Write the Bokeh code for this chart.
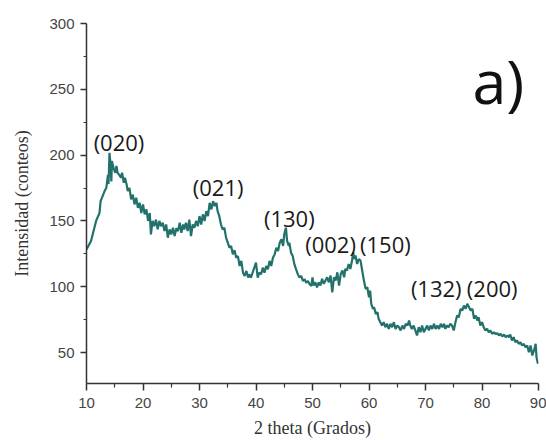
from bokeh.plotting import figure
from bokeh.models import Range1d, FixedTicker, ColumnDataSource
from bokeh.core.properties import value
from bokeh.embed import file_html
from bokeh.resources import INLINE

# 2 theta (degrees) and intensity (counts)
two_theta = [10.0, 10.8, 11.7, 12.3, 12.5, 13.2, 13.5, 13.8, 13.9, 14.07, 14.25, 14.4, 14.5, 14.8,
             15.1, 15.3, 15.5, 15.8, 16.1, 16.3, 16.6, 16.8, 17.1, 17.3, 17.6, 17.9, 18.2, 18.5,
             18.8, 19.1, 19.4, 19.7, 20.0, 20.3, 20.6, 20.9, 21.2, 21.4, 21.7, 22.0, 22.3, 22.6,
             22.9, 23.2, 23.5, 23.8, 24.1, 24.4, 24.7, 25.0, 25.3, 25.6, 25.9, 26.2, 26.5, 26.8,
             27.1, 27.3, 27.6, 27.9, 28.2, 28.5, 28.8, 29.1, 29.4, 29.7, 30.0, 30.3, 30.6, 30.9,
             31.2, 31.5, 31.8, 32.1, 32.4, 32.7, 33.0, 33.2, 33.5, 33.8, 34.1, 34.4, 34.7, 35.0,
             35.3, 35.6, 35.9, 36.2, 36.5, 36.8, 37.1, 37.4, 37.7, 38.0, 38.3, 38.6, 38.8, 39.1,
             39.4, 39.7, 40.0, 40.3, 40.6, 40.9, 41.2, 41.5, 41.8, 42.1, 42.4, 42.7, 43.0, 43.3,
             43.6, 43.9, 44.2, 44.5, 44.8, 45.0, 45.3, 45.5, 45.8, 45.9, 46.2, 46.5, 46.8, 47.1,
             47.4, 47.7, 48.0, 48.3, 48.6, 48.9, 49.2, 49.5, 49.8, 50.0, 50.2, 50.5, 50.8, 51.1,
             51.4, 51.7, 52.0, 52.3, 52.6, 52.9, 53.2, 53.5, 53.8, 54.1, 54.4, 54.7, 55.0, 55.3,
             55.6, 55.8, 56.1, 56.4, 56.7, 57.0, 57.2, 57.4, 57.6, 57.9, 58.2, 58.5, 58.7, 58.9,
             59.1, 59.4, 59.7, 60.0, 60.2, 60.4, 60.7, 60.9, 61.2, 61.5, 61.7, 62.0, 62.3, 62.6,
             62.9, 63.2, 63.5, 63.8, 64.1, 64.4, 64.7, 65.0, 65.3, 65.6, 65.9, 66.2, 66.5, 66.8,
             67.1, 67.3, 67.6, 67.9, 68.2, 68.5, 68.8, 69.1, 69.4, 69.7, 70.0, 70.3, 70.6, 70.9,
             71.2, 71.5, 71.8, 72.1, 72.4, 72.7, 73.0, 73.3, 73.5, 73.8, 74.1, 74.4, 74.7, 75.0,
             75.3, 75.6, 75.9, 76.2, 76.5, 76.8, 77.1, 77.4, 77.7, 78.0, 78.3, 78.6, 78.9, 79.2,
             79.4, 79.7, 80.0, 80.3, 80.6, 80.9, 81.2, 81.5, 81.8, 82.1, 82.4, 82.7, 83.0, 83.3,
             83.6, 83.9, 84.2, 84.5, 84.8, 85.0, 85.3, 85.6, 85.9, 86.2, 86.5, 86.8, 87.1, 87.4,
             87.7, 88.0, 88.3, 88.6, 88.9, 89.2, 89.5, 89.65, 89.9]
intensity = [128.4, 134.8, 150.0, 156.0, 165.0, 172.7, 175.0, 185.0, 178.0, 201.8, 193.0, 180.0, 195.5, 190.0,
             186.6, 191.7, 186.6, 185.0, 182.8, 186.6, 179.0, 182.8, 177.7, 172.7, 175.0, 166.4, 170.0, 162.6,
             167.6, 160.0, 163.8, 156.0, 162.6, 155.0, 158.8, 150.0, 156.0, 139.8, 150.0, 146.0, 151.0, 143.6,
             150.0, 146.0, 148.6, 142.3, 147.3, 137.3, 143.6, 139.8, 144.9, 138.5, 144.4, 142.3, 148.6, 141.0,
             147.3, 143.6, 148.6, 142.3, 151.0, 138.5, 147.3, 144.9, 150.0, 146.0, 153.7, 147.3, 155.0, 150.0,
             157.5, 153.7, 163.8, 158.8, 165.0, 161.3, 163.8, 157.5, 153.7, 147.3, 143.6, 144.9, 137.3, 133.5,
             129.7, 131.0, 124.6, 127.7, 122.0, 123.3, 115.8, 119.6, 110.7, 108.2, 112.0, 107.0, 109.5, 107.0,
             110.7, 114.5, 118.3, 107.0, 110.7, 109.5, 114.5, 110.7, 115.8, 113.2, 119.6, 115.8, 122.0, 124.6,
             129.7, 127.1, 133.5, 136.0, 131.0, 139.8, 144.9, 134.8, 131.0, 133.5, 125.9, 123.3, 117.0, 113.2,
             109.5, 107.0, 108.2, 104.4, 105.7, 103.1, 104.4, 101.9, 100.6, 107.2, 100.9, 103.4, 99.6, 103.4,
             100.9, 106.0, 102.2, 104.7, 107.2, 103.4, 108.5, 95.8, 107.2, 104.7, 111.0, 100.9, 109.7, 112.3,
             107.2, 113.5, 112.3, 117.3, 113.5, 119.9, 126.2, 121.1, 123.7, 117.3, 121.1, 119.9, 114.8, 109.7,
             104.7, 98.4, 99.6, 92.0, 97.1, 87.0, 83.2, 84.5, 79.4, 80.7, 75.6, 73.1, 70.5, 73.1,
             69.3, 71.8, 68.0, 71.8, 69.3, 73.1, 68.0, 70.5, 69.3, 66.8, 70.5, 68.0, 71.8, 70.5,
             74.3, 70.5, 68.0, 70.5, 66.8, 63.0, 69.3, 65.5, 70.5, 65.5, 68.0, 70.5, 66.8, 70.5,
             68.0, 71.8, 68.0, 70.5, 68.0, 71.8, 69.3, 71.8, 68.0, 70.5, 69.3, 71.8, 70.5, 66.8,
             73.1, 78.1, 76.9, 83.2, 81.9, 85.7, 83.2, 87.0, 84.5, 81.9, 83.2, 75.6, 78.1, 74.3,
             76.9, 70.5, 73.1, 69.3, 66.8, 68.0, 65.5, 66.8, 64.2, 65.5, 64.2, 64.7, 63.0, 64.2,
             62.2, 63.7, 61.7, 63.0, 61.7, 63.7, 59.2, 61.7, 57.9, 59.2, 56.6, 57.9, 55.4, 56.6,
             54.1, 55.4, 50.3, 55.4, 47.8, 51.6, 56.6, 46.5, 41.5]

peak_labels = ["(020)", "(021)", "(130)", "(002)", "(150)", "(132)", "(200)"]
peak_label_x = [15.75, 33.3, 45.9, 53.2, 62.9, 71.9, 81.8]
peak_label_y = [210.0, 176.0, 152.5, 132.8, 132.8, 99.0, 99.0]

x_ticks = [10, 20, 30, 40, 50, 60, 70, 80, 90]
x_minor = [15, 25, 35, 45, 55, 65, 75, 85]
y_ticks = [50, 100, 150, 200, 250, 300]
y_minor = [75, 125, 175, 225, 275]

panel_label = "a)"

p = figure(width=546, height=440, output_backend="svg", toolbar_location=None,
           x_range=Range1d(10, 90), y_range=Range1d(26.5, 300),
           min_border_left=86, min_border_right=8, min_border_top=23, min_border_bottom=57)
p.outline_line_color = None
p.xgrid.visible = False
p.ygrid.visible = False
p.background_fill_color = "white"
p.border_fill_color = "white"

p.line(two_theta, intensity, line_color="#22716b", line_width=2.2)

src = ColumnDataSource(dict(x=peak_label_x, y=peak_label_y, t=peak_labels))
p.text(x="x", y="y", text="t", source=src, text_align="center", text_baseline="middle",
       text_font=value("Open Sans"), text_font_size="22px", text_color="#1a1a1a")
p.text(x=[82.9], y=[256.4], text=[panel_label], text_align="center", text_baseline="middle",
       text_font=value("Open Sans"), text_font_size="61px", text_color="#111111")

for ax in (p.xaxis[0], p.yaxis[0]):
    ax.axis_line_color = "#333333"
    ax.axis_line_width = 1.5
    ax.major_tick_line_color = "#333333"
    ax.minor_tick_line_color = "#333333"
    ax.major_tick_line_width = 1.5
    ax.minor_tick_line_width = 1.2
    ax.major_tick_in = 0
    ax.minor_tick_in = 0
    ax.major_label_text_font = "Liberation Sans"
    ax.major_label_text_font_size = "15px"
    ax.major_label_text_color = "#444444"
    ax.axis_label_text_font = "Liberation Serif"
    ax.axis_label_text_font_size = "18px"
    ax.axis_label_text_font_style = "normal"
    ax.axis_label_text_color = "#333333"

p.xaxis.ticker = FixedTicker(ticks=x_ticks, minor_ticks=x_minor)
p.yaxis.ticker = FixedTicker(ticks=y_ticks, minor_ticks=y_minor)
p.xaxis.major_tick_out = 7
p.xaxis.minor_tick_out = 4
p.yaxis.major_tick_out = 6
p.yaxis.minor_tick_out = 3
p.xaxis.major_label_standoff = 7
p.yaxis.major_label_standoff = 6
p.xaxis.axis_label = "2 theta (Grados)"
p.yaxis.axis_label = "Intensidad (conteos)"
p.xaxis.axis_label_standoff = 7
p.yaxis.axis_label_standoff = 14

open("out.html", "w").write(file_html(p, INLINE))
